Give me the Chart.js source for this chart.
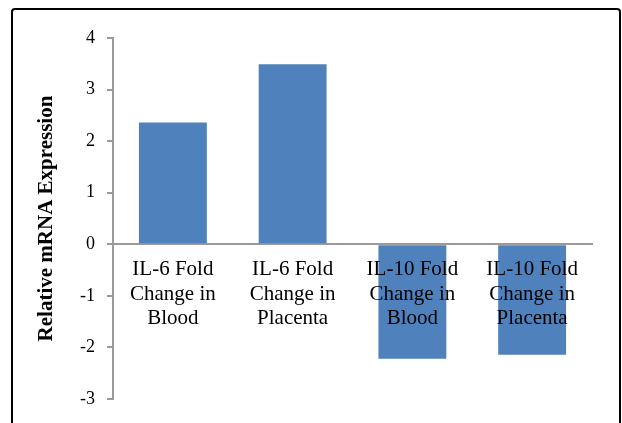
<!DOCTYPE html>
<html>
<head>
<meta charset="utf-8">
<script src="https://cdn.jsdelivr.net/npm/chart.js@4"></script>
<style>
  html, body { margin: 0; padding: 0; background: #fff; }
  #wrap { width: 622px; height: 423px; position: relative; }
</style>
</head>
<body>
<div id="wrap"><canvas id="c" width="622" height="423"></canvas></div>
<script>
// Categories (multi-line labels) and fold-change values
const categories = [
  ["IL-6 Fold", "Change in", "Blood"],
  ["IL-6 Fold", "Change in", "Placenta"],
  ["IL-10 Fold", "Change in", "Blood"],
  ["IL-10 Fold", "Change in", "Placenta"]
];
const foldChange = [2.36, 3.49, -2.22, -2.14];
const yTicks = [-3, -2, -1, 0, 1, 2, 3, 4];
const yTitle = "Relative mRNA Expression";

const AXIS_GRAY = "#9a9a9a";
const SERIF = "'Liberation Serif', 'Times New Roman', serif";

// Outer frame around the chart
const framePlugin = {
  id: "frame",
  afterDraw(chart) {
    const ctx = chart.ctx;
    ctx.save();
    ctx.strokeStyle = "#000";
    ctx.lineWidth = 2;
    ctx.beginPath();
    ctx.roundRect(12, 9, 608, 440, 3);
    ctx.stroke();
    ctx.restore();
  }
};

new Chart(document.getElementById("c"), {
  type: "bar",
  data: {
    labels: categories,
    datasets: [{
      data: foldChange,
      backgroundColor: "#4F81BD",
      borderWidth: 0,
      categoryPercentage: 1.0,
      barPercentage: 0.567
    }]
  },
  options: {
    responsive: false,
    animation: false,
    devicePixelRatio: 1,
    layout: { padding: { left: 34, top: 38, right: 30, bottom: 24 } },
    plugins: {
      legend: { display: false },
      tooltip: { enabled: false }
    },
    scales: {
      x: {
        position: { y: 0 },
        grid: { display: false, drawTicks: false },
        border: { display: true, color: AXIS_GRAY, width: 2 },
        ticks: {
          z: 1,
          color: "#000",
          padding: 13,
          maxRotation: 0,
          autoSkip: false,
          font: { family: SERIF, size: 21, lineHeight: 1.17 }
        }
      },
      y: {
        min: -3,
        max: 4,
        afterFit(scale) { scale.width = 113 - 34; },
        afterBuildTicks(scale) { scale.ticks = yTicks.map(v => ({ value: v })); },
        grid: {
          drawOnChartArea: false,
          drawTicks: true,
          tickLength: 6,
          color: AXIS_GRAY,
          lineWidth: 2
        },
        border: { display: true, color: AXIS_GRAY, width: 2 },
        ticks: {
          color: "#000",
          padding: 12,
          font: { family: SERIF, size: 18 }
        },
        title: {
          display: true,
          text: yTitle,
          color: "#000",
          padding: { top: 0, bottom: 0 },
          font: { family: SERIF, size: 21, weight: "bold", lineHeight: 1.2 }
        }
      }
    }
  },
  plugins: [framePlugin]
});
</script>
</body>
</html>
